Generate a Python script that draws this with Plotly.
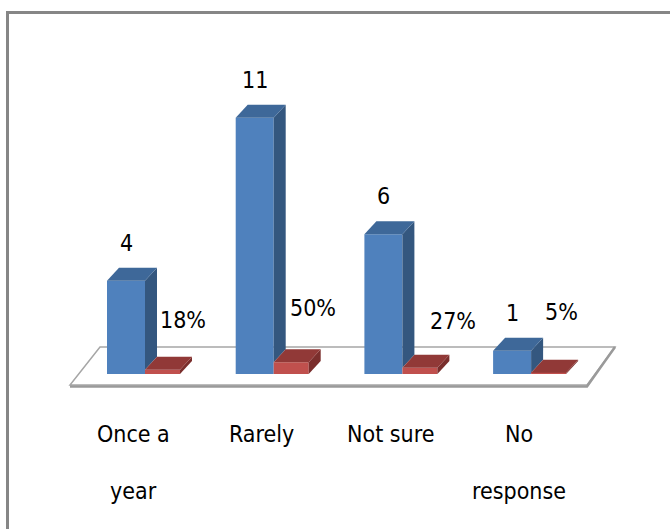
import plotly.graph_objects as go

# ---------------- data ----------------
categories = ["Once a<br>year", "Rarely", "Not sure", "No<br>response"]
counts = [4, 11, 6, 1]
percents = [18, 50, 27, 5]
count_labels = ["4", "11", "6", "1"]
percent_labels = ["18%", "50%", "27%", "5%"]

# ---------------- geometry / style ----------------
W, H = 670, 529
PX_X = 128.7          # pixels per category unit
PX_Y = 23.3           # pixels per value unit
X0_PX = 133           # pixel of category 0
Y0_PX = 374           # pixel of value 0

def ux(px):  # pixel length -> x units
    return px / PX_X

def uy(px):  # pixel length -> y units
    return px / PX_Y

xr = [-X0_PX / PX_X, (W - X0_PX) / PX_X]
yr = [(Y0_PX - H) / PX_Y, Y0_PX / PX_Y]

BLUE_OFF, BLUE_W = ux(-26), ux(38)
RED_OFF, RED_W = ux(12), ux(35)
DX, DY = ux(12), uy(13)

BLUE_FRONT, BLUE_SIDE, BLUE_TOP = "#4F81BD", "#34577F", "#3E6899"
RED_FRONT, RED_SIDE, RED_TOP = "#C0504D", "#7A2E2C", "#913937"
FONT = "DejaVu Sans Condensed, DejaVu Sans, sans-serif"
FS = 23
LINE_GAP = 57  # px between category label lines

# red label nudges (px)
red_nudge = [(20, 50), (22, 54), (33, 47), (13, 61)]

x = list(range(len(categories)))
red_vals = [p / 100 for p in percents]

fig = go.Figure()

# front faces
fig.add_trace(go.Bar(x=x, y=counts, width=BLUE_W, offset=BLUE_OFF,
                     marker=dict(color=BLUE_FRONT, line=dict(width=0)),
                     showlegend=False, hoverinfo="skip"))
fig.add_trace(go.Bar(x=x, y=red_vals, width=RED_W, offset=RED_OFF,
                     marker=dict(color=RED_FRONT, line=dict(width=0)),
                     showlegend=False, hoverinfo="skip"))

# 3D side / top faces computed from the values
for i, (b, r) in enumerate(zip(counts, red_vals)):
    bl = i + BLUE_OFF
    br = bl + BLUE_W
    fig.add_trace(go.Scatter(x=[br, br + DX, br + DX, br, br],
                             y=[r, r + DY, b + DY, b, r],
                             mode="lines", fill="toself", fillcolor=BLUE_SIDE,
                             line=dict(width=0), hoverinfo="skip", showlegend=False))
    fig.add_trace(go.Scatter(x=[bl, bl + DX, br + DX, br, bl],
                             y=[b, b + DY, b + DY, b, b],
                             mode="lines", fill="toself", fillcolor=BLUE_TOP,
                             line=dict(width=0), hoverinfo="skip", showlegend=False))
    rl = i + RED_OFF
    rr = rl + RED_W
    fig.add_trace(go.Scatter(x=[rr, rr + DX, rr + DX, rr, rr],
                             y=[0, DY, r + DY, r, 0],
                             mode="lines", fill="toself", fillcolor=RED_SIDE,
                             line=dict(width=0), hoverinfo="skip", showlegend=False))
    fig.add_trace(go.Scatter(x=[rl, rl + DX, rr + DX, rr, rl],
                             y=[r, r + DY, r + DY, r, r],
                             mode="lines", fill="toself", fillcolor=RED_TOP,
                             line=dict(width=0), hoverinfo="skip", showlegend=False))

annotations = []
for i, (b, r) in enumerate(zip(counts, red_vals)):
    annotations.append(dict(x=i + BLUE_OFF + BLUE_W / 2, y=b, xref="x", yref="y",
                            text=count_labels[i], showarrow=False,
                            xanchor="center", yanchor="middle", yshift=38,
                            font=dict(family=FONT, size=FS, color="black")))
    nx, ny = red_nudge[i]
    annotations.append(dict(x=i + RED_OFF + RED_W / 2, y=r, xref="x", yref="y",
                            text=percent_labels[i], showarrow=False,
                            xanchor="center", yanchor="middle",
                            xshift=nx, yshift=ny,
                            font=dict(family=FONT, size=FS, color="black")))
    for k, line in enumerate(categories[i].split("<br>")):
        annotations.append(dict(x=i, y=-uy(434 - Y0_PX), xref="x", yref="y",
                                text=line, showarrow=False,
                                xanchor="center", yanchor="middle",
                                yshift=-k * LINE_GAP,
                                font=dict(family=FONT, size=FS, color="black")))

# floor (below traces)
fb, ff = uy(27), -uy(11)
fx = [ux(100 - X0_PX), ux(615 - X0_PX), ux(587 - X0_PX), ux(70 - X0_PX)]
fy = [fb, fb, ff, ff]
floor_path = "M {} {} L {} {} L {} {} L {} {} Z".format(
    fx[0], fy[0], fx[1], fy[1], fx[2], fy[2], fx[3], fy[3])
front_path = "M {} {} L {} {} L {} {}".format(
    fx[3], ff - uy(1.5), fx[2], ff - uy(1.5), fx[1], fb)

fig.update_layout(
    width=W, height=H,
    margin=dict(l=0, r=0, t=0, b=0),
    paper_bgcolor="white", plot_bgcolor="white",
    barmode="overlay",
    xaxis=dict(range=xr, visible=False, fixedrange=True),
    yaxis=dict(range=yr, visible=False, fixedrange=True),
    annotations=annotations,
    shapes=[
        dict(type="path", xref="x", yref="y", path=floor_path, layer="below",
             fillcolor="white", line=dict(color="#A6A6A6", width=1.5)),
        dict(type="path", xref="x", yref="y", path=front_path, layer="below",
             line=dict(color="#9A9A9A", width=2.5)),
        dict(type="line", xref="paper", yref="paper",
             x0=7.5 / W, x1=1, y0=1 - 12.5 / H, y1=1 - 12.5 / H,
             line=dict(color="#868686", width=3)),
        dict(type="line", xref="paper", yref="paper",
             x0=7.5 / W, x1=7.5 / W, y0=0, y1=1 - 11 / H,
             line=dict(color="#868686", width=3)),
    ],
)

fig.write_html("out.html")
